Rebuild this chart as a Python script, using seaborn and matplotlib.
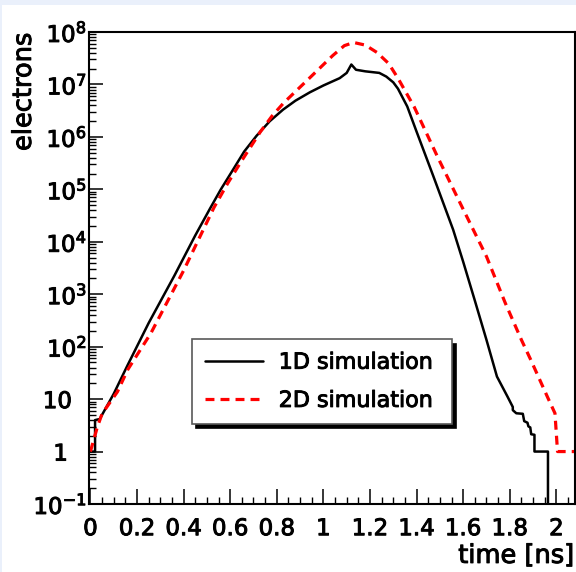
import numpy as np
import pandas as pd
import seaborn as sns
import matplotlib
matplotlib.use("Agg")
import matplotlib.pyplot as plt
import matplotlib.transforms as mtransforms
import matplotlib.patheffects as pe
from matplotlib.patches import Rectangle
from matplotlib.ticker import LogLocator, NullFormatter, MultipleLocator

# ---------------- data ----------------
time_1d = [0.0, 0.02, 0.02, 0.04, 0.10, 0.16, 0.25, 0.36, 0.45, 0.513, 0.56, 0.613,
           0.66, 0.713, 0.77, 0.827, 0.88, 0.942, 1.0, 1.07, 1.10, 1.12, 1.14, 1.18,
           1.24, 1.27, 1.30, 1.32, 1.36, 1.40, 1.472, 1.557, 1.60, 1.65, 1.70,
           1.745, 1.79, 1.813, 1.813, 1.828, 1.856, 1.862, 1.876, 1.880, 1.888,
           1.892, 1.906, 1.906, 1.964, 1.964]
log_electrons_1d = [0.0, 0.0, 0.6, 0.62, 1.1, 1.65, 2.45, 3.35, 4.12, 4.63, 5.0, 5.38,
                    5.72, 6.02, 6.30, 6.52, 6.69, 6.85, 6.98, 7.12, 7.22, 7.38, 7.28, 7.25,
                    7.22, 7.15, 7.04, 6.92, 6.58, 6.10, 5.25, 4.23, 3.62, 2.88, 2.13,
                    1.43, 1.05, 0.85, 0.79, 0.73, 0.72, 0.58, 0.55, 0.48, 0.46,
                    0.33, 0.32, 0.0, 0.0, -2.0]

time_2d = [0.0, 0.03, 0.05, 0.116, 0.16, 0.26, 0.40, 0.53, 0.59, 0.65, 0.73, 0.78,
           0.83, 0.94, 1.04, 1.09, 1.13, 1.18, 1.23, 1.28, 1.32, 1.39, 1.49, 1.60,
           1.70, 1.78, 1.85, 1.89, 1.967, 1.994, 2.005, 2.08]
log_electrons_2d = [0.0, 0.47, 0.72, 1.14, 1.56, 2.26, 3.45, 4.65, 5.12, 5.55, 6.1, 6.4,
                    6.65, 7.12, 7.55, 7.74, 7.80, 7.75, 7.61, 7.40, 7.12, 6.57, 5.62, 4.62,
                    3.72, 2.84, 2.13, 1.75, 0.99, 0.73, 0.0, 0.0]

series_labels = ["1D simulation", "2D simulation"]

xtick_values = [0.0, 0.2, 0.4, 0.6, 0.8, 1.0, 1.2, 1.4, 1.6, 1.8, 2.0]
xtick_labels = ["0", "0.2", "0.4", "0.6", "0.8", "1", "1.2", "1.4", "1.6", "1.8", "2"]
ytick_exponents = [-1, 0, 1, 2, 3, 4, 5, 6, 7, 8]
ytick_labels = [r"$\mathregular{10^{-1}}$", "1", "10", r"$\mathregular{10^{2}}$",
                r"$\mathregular{10^{3}}$", r"$\mathregular{10^{4}}$",
                r"$\mathregular{10^{5}}$", r"$\mathregular{10^{6}}$",
                r"$\mathregular{10^{7}}$", r"$\mathregular{10^{8}}$"]

# ---------------- style ----------------
sns.set_theme(style="ticks")
plt.rcParams["font.family"] = ["DejaVu Sans"]
plt.rcParams["axes.linewidth"] = 1.5
plt.rcParams["axes.edgecolor"] = "black"
plt.rcParams["text.color"] = "black"
plt.rcParams["axes.labelcolor"] = "black"
plt.rcParams["xtick.color"] = "black"
plt.rcParams["ytick.color"] = "black"
plt.rcParams["xtick.labelcolor"] = "black"
plt.rcParams["ytick.labelcolor"] = "black"

bold = [pe.withStroke(linewidth=0.7, foreground="black")]

W, H = 576, 572
fig = plt.figure(figsize=(W / 100, H / 100), dpi=100, facecolor="#eaf0fb")
fig.patches.append(Rectangle((2 / W, 0), 1, 1 - 5 / H, transform=fig.transFigure,
                             facecolor="white", edgecolor="none", zorder=-10))
ax = fig.add_axes([89 / W, 1 - 504 / H, 486 / W, 472 / H])
ax.set_zorder(5)
ax.set_facecolor("white")

df1 = pd.DataFrame({"time": time_1d, "electrons": 10 ** np.array(log_electrons_1d)})
df2 = pd.DataFrame({"time": time_2d, "electrons": 10 ** np.array(log_electrons_2d)})

sns.lineplot(data=df1, x="time", y="electrons", estimator=None, sort=False,
             color="black", linewidth=1.8, ax=ax, label=series_labels[0])
sns.lineplot(data=df2, x="time", y="electrons", estimator=None, sort=False,
             color="#ff0000", linewidth=2.3, linestyle=(0, (2.8, 1.9)), ax=ax,
             label=series_labels[1])

ax.set_yscale("log")
ax.set_xlim(-0.006, 2.08)
ax.set_ylim(0.1, 1e8)

ax.set_xticks(xtick_values, xtick_labels)
ax.xaxis.set_minor_locator(MultipleLocator(0.05))
ax.set_yticks([10.0 ** e for e in ytick_exponents], ytick_labels)
ax.yaxis.set_minor_locator(LogLocator(base=10, subs=np.arange(2, 10), numticks=20))
ax.yaxis.set_minor_formatter(NullFormatter())

ax.tick_params(axis="both", which="both", direction="in", top=False, right=False,
               color="black", labelcolor="black")
ax.tick_params(axis="x", which="major", length=11, width=1.1, pad=9.5, labelsize=16.5)
ax.tick_params(axis="y", which="major", length=10, width=1.1, pad=1.5, labelsize=16.5)
ax.tick_params(which="minor", length=5, width=1.0)
for s in ax.spines.values():
    s.set_visible(True)
    s.set_linewidth(1.5)
    s.set_color("black")

# shift the un-superscripted y labels like the reference
shifts = {"10": -15, "1": -19}
for tick, lab in zip(ax.yaxis.get_major_ticks(), ytick_labels):
    tick.label1.set_path_effects(bold)
    if lab in shifts:
        off = mtransforms.ScaledTranslation(shifts[lab] / 100, 0, fig.dpi_scale_trans)
        tick.label1.set_transform(tick.label1.get_transform() + off)
for tick in ax.xaxis.get_major_ticks():
    tick.label1.set_path_effects(bold)

ax.set_xlabel("time [ns]", fontsize=18.5, loc="right", path_effects=bold)
ax.xaxis.set_label_coords(1.0, -0.11)
ax.xaxis.label.set_va("center")
ax.set_ylabel("electrons", fontsize=18.5, loc="top", path_effects=bold)
ax.yaxis.set_label_coords(-0.134, 1.0)
ax.yaxis.label.set_va("center")

leg = ax.legend(loc="lower left", bbox_to_anchor=(0.212, 0.169, 0.535, 0.183),
                mode="expand", borderaxespad=0, fontsize=16, frameon=True,
                fancybox=False, edgecolor="0.35", framealpha=1,
                handlelength=2.6, handletextpad=0.7, borderpad=0.6,
                labelspacing=0.82,
                shadow={"ox": 3, "oy": -3, "facecolor": "black",
                        "edgecolor": "black", "alpha": 1})
leg.get_frame().set_linewidth(1.2)
for t in leg.get_texts():
    t.set_color("black")
    t.set_path_effects(bold)

fig.savefig("out.png", dpi=100, facecolor=fig.get_facecolor())
